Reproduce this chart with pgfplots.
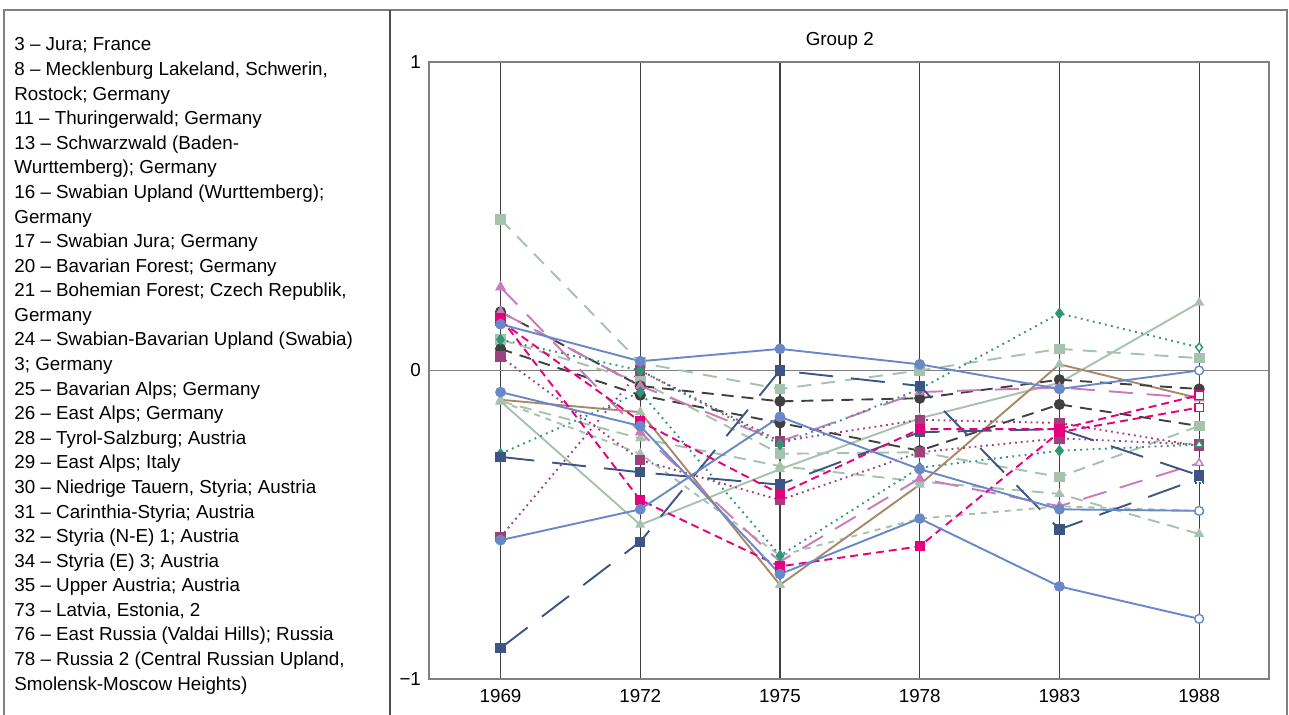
\documentclass[border=0pt]{standalone}
\usepackage{fontspec}
\setmainfont{Liberation Sans}
\usepackage{pgfplots}
\pgfplotsset{compat=1.18}

\definecolor{cblue}{RGB}{104,136,200}
\definecolor{cnavy}{RGB}{62,84,132}
\definecolor{cdark}{RGB}{64,64,64}
\definecolor{csage}{RGB}{166,194,174}
\definecolor{cteal}{RGB}{44,150,118}
\definecolor{cmag}{RGB}{230,0,126}
\definecolor{cpurp}{RGB}{160,64,122}
\definecolor{cpink}{RGB}{202,122,186}
\definecolor{cbrown}{RGB}{168,136,104}
\definecolor{framegray}{RGB}{128,128,128}

\newcommand{\txt}{\fontsize{9.4}{11}\selectfont}

\pgfplotsset{
  lw/.style={line width=0.95pt},
  sblue/.style={lw, color=cblue, solid, mark=*, mark size=2.2pt, mark options={solid}},
  snavy/.style={lw, color=cnavy, dash pattern=on 17pt off 9pt, mark=square*, mark size=2.1pt, mark options={solid}},
  sdark/.style={lw, color=cdark, dash pattern=on 6pt off 4pt, mark=*, mark size=2.3pt, mark options={solid}},
  smag/.style={lw, color=cmag, dash pattern=on 4pt off 2.5pt, mark=square*, mark size=2.1pt, mark options={solid}},
  spurp/.style={lw, color=cpurp, dash pattern=on 0.9pt off 2pt, mark=square*, mark size=2.1pt, mark options={solid}},
  steal/.style={lw, color=cteal, dash pattern=on 0.9pt off 2.2pt, mark=diamond*, mark size=2.2pt, mark options={solid}},
  spink/.style={lw, color=cpink, dash pattern=on 12pt off 7pt, mark=triangle*, mark size=2.2pt, mark options={solid}},
  sbrown/.style={lw, color=cbrown, solid, mark=triangle*, mark size=2pt, mark options={solid, draw=csage, fill=csage}},
  ssage/.style={lw, color=csage},
  hollow/.style={only marks, mark options={solid, fill=white, line width=0.7pt}},
  firstfive/.style={mark indices={1,2,3,4,5}},
}

\begin{document}
\begin{tikzpicture}[x=1pt,y=1pt]
\path[use as bounding box] (0,0) rectangle (644.5,357.5);
% outer frame and divider
\draw[line width=0.75pt, framegray] (2,-2) -- (2,352.5) -- (643.5,352.5) -- (643.5,-2);
\draw[line width=0.75pt, cdark!80!framegray] (195,-2) -- (195,352.5);

% region list
\foreach \t [count=\i] in {
  {3 – Jura; France},
  {8 – Mecklenburg Lakeland, Schwerin,},
  {Rostock; Germany},
  {11 – Thuringerwald; Germany},
  {13 – Schwarzwald (Baden-},
  {Wurttemberg); Germany},
  {16 – Swabian Upland (Wurttemberg);},
  {Germany},
  {17 – Swabian Jura; Germany},
  {20 – Bavarian Forest; Germany},
  {21 – Bohemian Forest; Czech Republik,},
  {Germany},
  {24 – Swabian-Bavarian Upland (Swabia)},
  {3; Germany},
  {25 – Bavarian Alps; Germany},
  {26 – East Alps; Germany},
  {28 – Tyrol-Salzburg; Austria},
  {29 – East Alps; Italy},
  {30 – Niedrige Tauern, Styria; Austria},
  {31 – Carinthia-Styria; Austria},
  {32 – Styria (N-E) 1; Austria},
  {34 – Styria (E) 3; Austria},
  {35 – Upper Austria; Austria},
  {73 – Latvia, Estonia, 2},
  {76 – East Russia (Valdai Hills); Russia},
  {78 – Russia 2 (Central Russian Upland,},
  {Smolensk-Moscow Heights)}}
  \node[anchor=base west, inner sep=0pt, font=\txt] at (7, {332 - (\i-1)*12.29}) {\t};

\begin{axis}[
  at={(214.5pt,18pt)}, anchor=south west,
  scale only axis, width=420pt, height=308.5pt,
  xmin=-0.512, xmax=5.5, ymin=-1, ymax=1,
  xtick={0,...,5},
  xticklabels={1969,1972,1975,1978,1983,1988},
  ytick={-1,0,1},
  yticklabels={−1,0,1},
  major tick length=0pt,
  xmajorgrids, ymajorgrids,
  x grid style={cdark, line width=0.6pt},
  y grid style={framegray, line width=0.6pt},
  axis line style={framegray, line width=0.6pt},
  tick label style={font=\txt},
  xticklabel style={anchor=base, yshift=-12pt},
  yticklabel style={anchor=east, xshift=-0.5pt},
  title={Group 2},
  title style={at={(0.489,1)}, anchor=base, yshift=2pt, font=\txt},
  clip=false,
]
% sage series
\addplot[ssage, dash pattern=on 7pt off 5pt, mark=square*, mark size=2.2pt, mark options={solid}]
  coordinates {(0,0.49) (1,0.025) (2,-0.06) (3,0.0) (4,0.07) (5,0.04)};
\addplot[ssage, solid, mark=triangle*, mark size=2pt]
  coordinates {(0,-0.10) (1,-0.50) (2,-0.32) (3,-0.155) (4,-0.04) (5,0.22)};
\addplot[ssage, dash pattern=on 6pt off 4pt, mark=square*, mark size=2.2pt, mark options={solid}]
  coordinates {(0,0.10) (1,-0.035) (2,-0.27) (3,-0.265) (4,-0.345) (5,-0.18)};
\addplot[ssage, dash pattern=on 6pt off 4pt, mark=triangle*, mark size=2pt, mark options={solid}]
  coordinates {(0,-0.10) (1,-0.22) (2,-0.31) (3,-0.36) (4,-0.40) (5,-0.53)};
\addplot[ssage, dash pattern=on 3pt off 3pt, mark=triangle*, mark size=2pt, mark options={solid}]
  coordinates {(0,-0.10) (1,-0.27) (2,-0.60) (3,-0.48) (4,-0.44) (5,-0.455)};
% brown
\addplot[sbrown]
  coordinates {(0,-0.095) (1,-0.135) (2,-0.695) (3,-0.37) (4,0.02) (5,-0.09)};
% dark grey
\addplot[sdark] coordinates {(0,0.19) (1,-0.05) (2,-0.10) (3,-0.09) (4,-0.03) (5,-0.06)};
\addplot[sdark, firstfive] coordinates {(0,0.07) (1,-0.08) (2,-0.17) (3,-0.26) (4,-0.11) (5,-0.18)};
\addplot[only marks, mark=square*, mark size=2.2pt, color=csage] coordinates {(5,-0.18)};
% pink long dash
\addplot[spink, firstfive] coordinates {(0,0.27) (1,-0.20) (2,-0.62) (3,-0.35) (4,-0.44) (5,-0.30)};
\addplot[spink, hollow] coordinates {(5,-0.30)};
\addplot[spink] coordinates {(0,0.19) (1,-0.05) (2,-0.23) (3,-0.07) (4,-0.055) (5,-0.09)};
% purple dotted
\addplot[spurp] coordinates {(0,-0.54) (1,0.0) (2,-0.23) (3,-0.16) (4,-0.17) (5,-0.245)};
\addplot[spurp] coordinates {(0,0.045) (1,-0.29) (2,-0.42) (3,-0.265) (4,-0.22) (5,-0.24)};
% teal dotted
\addplot[steal, firstfive] coordinates {(0,-0.27) (1,-0.07) (2,-0.60) (3,-0.315) (4,-0.26) (5,-0.24)};
\addplot[steal, hollow, mark=triangle*] coordinates {(5,-0.24)};
\addplot[steal, firstfive] coordinates {(0,0.10) (1,0.0) (2,-0.24) (3,-0.06) (4,0.185) (5,0.075)};
\addplot[steal, hollow] coordinates {(5,0.075)};
% navy long dash
\addplot[snavy, firstfive] coordinates {(0,-0.90) (1,-0.555) (2,0.0) (3,-0.05) (4,-0.515) (5,-0.35)};
\addplot[snavy, hollow, mark options={densely dotted, fill=white}] coordinates {(5,-0.35)};
\addplot[snavy] coordinates {(0,-0.28) (1,-0.33) (2,-0.37) (3,-0.20) (4,-0.19) (5,-0.34)};
% magenta dashed
\addplot[smag, firstfive] coordinates {(0,0.17) (1,-0.42) (2,-0.635) (3,-0.57) (4,-0.20) (5,-0.12)};
\addplot[smag, hollow] coordinates {(5,-0.12)};
\addplot[smag, firstfive] coordinates {(0,0.16) (1,-0.165) (2,-0.40) (3,-0.19) (4,-0.19) (5,-0.08)};
\addplot[smag, hollow] coordinates {(5,-0.08)};
% blue solid
\addplot[sblue, firstfive] coordinates {(0,0.15) (1,0.03) (2,0.07) (3,0.02) (4,-0.06) (5,0.0)};
\addplot[sblue, hollow] coordinates {(5,0.0)};
\addplot[sblue, firstfive] coordinates {(0,-0.55) (1,-0.45) (2,-0.15) (3,-0.32) (4,-0.45) (5,-0.455)};
\addplot[sblue, hollow] coordinates {(5,-0.455)};
\addplot[sblue, firstfive] coordinates {(0,-0.07) (1,-0.18) (2,-0.66) (3,-0.48) (4,-0.70) (5,-0.805)};
\addplot[sblue, hollow] coordinates {(5,-0.805)};
\end{axis}
\end{tikzpicture}
\end{document}
